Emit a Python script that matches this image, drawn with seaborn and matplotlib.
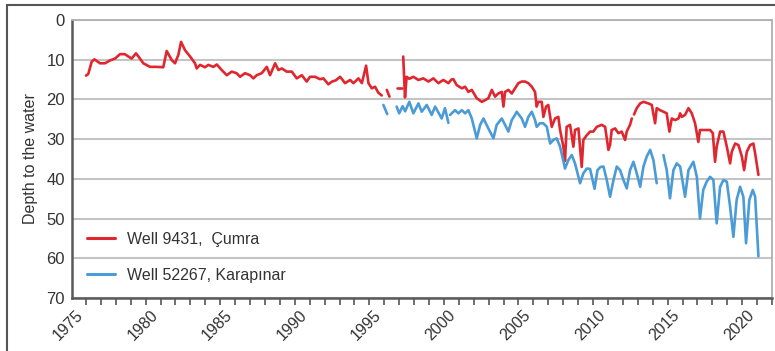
import numpy as np
import pandas as pd
import matplotlib
matplotlib.use("Agg")
import matplotlib.pyplot as plt
import seaborn as sns
from matplotlib.ticker import MultipleLocator
from matplotlib.patches import Rectangle

NaN = np.nan

# ---------------- data ----------------
series_names = ["Well 9431,  Çumra", "Well 52267, Karapınar"]
series_colors = ["#e0262e", "#4b9bd6"]

red_year = [1975.0, 1975.15, 1975.38, 1975.56, 1975.94, 1976.27, 1976.6, 1976.95, 1977.28, 1977.6,
            1977.84, 1978.06, 1978.35, 1978.5, 1978.84, 1979.29, 1979.74, 1980.18, 1980.41, 1980.75,
            1980.97, 1981.19, 1981.37, 1981.64, 1981.98, 1982.31, 1982.42, 1982.65, 1982.98, 1983.2,
            1983.54, 1983.77, 1984.1, 1984.44, 1984.77, 1985.1, 1985.33, 1985.66, 1986.0, 1986.22,
            1986.45, 1986.78, 1987.12, 1987.34, 1987.68, 1987.9, 1988.13, 1988.46, 1988.8, 1989.13,
            1989.47, 1989.8, 1990.02, 1990.36, 1990.69, 1990.92, 1991.25, 1991.5, 1991.75, 1992.04,
            1992.37, 1992.71, 1992.93, 1993.27, 1993.5, 1993.78, 1993.94, 1994.16, 1994.38, 1994.6,
            1994.83, NaN,
            1995.17, 1995.35, NaN,
            1995.83, 1996.17, NaN,
            1996.27, 1996.39, 1996.5, 1996.68, 1996.95, 1997.29, 1997.62, 1997.96, 1998.29, 1998.63,
            1998.96, 1999.3, 1999.5, 1999.63, 1999.86, 2000.2, 2000.42, 2000.64, 2000.87, 2001.2,
            2001.54, 2001.76, 2001.98, 2002.21, 2002.43, 2002.65, 2002.88, 2002.99, 2003.1, 2003.32,
            2003.55, 2003.77, 2003.99, 2004.22, 2004.44, 2004.66, 2004.89, 2005.11, 2005.22, 2005.33,
            2005.56, 2005.67, 2005.85, 2006.0, 2006.23, 2006.45, 2006.67, 2006.79, 2007.01, 2007.12,
            2007.23, 2007.46, 2007.68, 2007.79, 2008.02, 2008.24, 2008.35, 2008.58, 2008.8, 2009.02,
            2009.25, 2009.58, 2009.81, 2010.03, 2010.14, 2010.25, 2010.48, 2010.7, 2010.92, 2011.15,
            2011.26, 2011.48, 2011.6, NaN,
            2011.75, 2011.93, 2012.16, 2012.38, 2012.71, 2012.94, 2013.16, 2013.27, 2013.49, 2013.72,
            2013.94, 2014.12, 2014.28, 2014.5, 2014.73, 2014.84, 2014.95, 2015.17, 2015.4, 2015.62,
            2015.84, 2015.96, 2016.06, 2016.17, 2016.51, 2016.85, 2017.03, 2017.18, 2017.29, 2017.52,
            2017.74, 2017.97, 2018.19, 2018.3, 2018.53, 2018.75, 2018.98, 2019.13, 2019.31, 2019.53,
            2019.75, 2019.87, 2020.09]
red_depth = [14.0, 13.6, 10.5, 9.9, 10.9, 10.9, 10.2, 9.7, 8.6, 8.6,
             9.2, 9.7, 8.4, 9.1, 10.9, 11.8, 11.8, 11.9, 7.8, 10.1,
             10.9, 8.8, 5.5, 7.6, 9.2, 10.9, 12.2, 11.3, 11.9, 11.3,
             11.8, 11.2, 12.6, 13.9, 13.0, 13.4, 14.3, 13.4, 13.9, 14.7,
             13.9, 13.4, 11.8, 13.9, 10.9, 12.6, 12.2, 13.0, 13.0, 14.7,
             13.9, 15.5, 14.3, 14.3, 14.9, 14.7, 16.2, 15.5, 15.2, 14.3,
             15.9, 15.1, 15.9, 14.7, 15.9, 11.5, 15.9, 17.2, 16.8, 18.3,
             19.0, NaN,
             17.6, 19.3, NaN,
             17.2, 17.2, NaN,
             9.2, 19.5, 14.3, 14.8, 14.3, 15.1, 14.7, 15.5, 14.7, 15.9,
             15.1, 15.9, 15.0, 14.9, 16.4, 17.2, 16.8, 18.1, 17.6, 19.7,
             20.6, 20.2, 19.7, 17.6, 19.3, 18.5, 18.1, 21.8, 18.1, 17.6,
             18.5, 17.2, 15.9, 15.5, 15.5, 15.9, 16.8, 18.1, 21.8, 20.6,
             20.6, 24.4, 21.8, 21.4, 26.9, 24.8, 24.4, 27.7, 31.9, 35.5,
             26.9, 26.4, 31.9, 27.7, 27.3, 37.0, 30.2, 29.0, 28.1, 28.1,
             26.9, 26.4, 26.9, 32.7, 31.5, 27.7, 27.3, 28.5, 28.1, 30.2,
             28.1, 26.4, 24.8, NaN,
             23.8, 22.2, 21.0, 20.6, 21.0, 21.4, 26.0, 22.2, 22.7, 23.1,
             23.5, 28.1, 24.8, 25.2, 24.8, 23.5, 24.4, 23.9, 22.2, 23.5,
             26.0, 28.5, 30.7, 27.7, 27.7, 27.7, 28.5, 35.7, 31.9, 28.1,
             28.1, 31.9, 36.1, 33.2, 31.1, 31.5, 34.4, 37.8, 33.2, 31.5,
             31.1, 33.6, 39.0]

blue_year = [1994.94, 1995.2, NaN,
             1995.83, 1996.0, 1996.23, 1996.4, 1996.68, 1996.95, 1997.29, 1997.51, 1997.85, 1998.18,
             1998.41, 1998.85, 1999.07, 1999.3, NaN,
             1999.41, 1999.75, 1999.97, 2000.2, 2000.42, 2000.64, 2000.87, 2001.2, 2001.43, 2001.65,
             2001.98, 2002.32, 2002.54, 2002.88, 2003.1, 2003.32, 2003.55, 2003.77, 2003.88, 2004.22,
             2004.44, 2004.66, 2004.89, 2005.11, 2005.22, 2005.44, 2005.67, 2005.9, 2006.12, 2006.34,
             2006.56, 2006.79, 2007.12, 2007.34, 2007.57, 2007.79, 2008.13, 2008.35, 2008.58, 2008.8,
             2009.1, 2009.3, 2009.5, 2009.7, 2009.92, 2010.14, 2010.37, 2010.59, 2010.81, 2011.04,
             2011.26, 2011.48, 2011.71, 2011.93, 2012.16, 2012.38, 2012.6, 2012.83, 2013.05, 2013.27, NaN,
             2013.72, 2013.94, 2014.16, 2014.39, 2014.61, 2014.84, 2015.17, 2015.4, 2015.73, 2015.96,
             2016.17, 2016.39, 2016.62, 2016.85, 2017.07, 2017.29, 2017.52, 2017.74, 2017.97, 2018.19,
             2018.41, 2018.63, 2018.86, 2019.08, 2019.26, 2019.48, 2019.71, 2019.87, 2020.09]
blue_depth = [21.4, 23.7, NaN,
              21.8, 23.5, 21.7, 23.0, 20.6, 23.5, 21.0, 23.1, 21.4, 23.9,
              21.8, 24.8, 22.2, 25.9, NaN,
              23.9, 22.7, 23.5, 22.7, 23.5, 22.7, 24.8, 29.8, 26.4, 24.8,
              27.3, 29.8, 26.4, 24.8, 26.4, 28.1, 25.2, 23.9, 23.1, 24.8,
              26.9, 24.4, 23.1, 25.2, 26.9, 26.0, 26.0, 26.9, 31.1, 30.2,
              29.8, 31.9, 37.4, 35.3, 34.0, 36.1, 41.1, 38.6, 37.4, 37.5,
              42.5, 37.8, 37.0, 36.9, 40.3, 44.5, 40.3, 36.9, 37.8, 40.3,
              42.4, 37.8, 35.7, 38.6, 42.0, 36.9, 34.4, 32.7, 35.3, 41.1, NaN,
              34.0, 37.8, 44.9, 37.8, 36.1, 36.9, 44.5, 37.8, 35.7, 39.5,
              50.0, 42.8, 40.7, 39.5, 40.3, 51.2, 42.0, 40.3, 40.7, 47.0,
              54.6, 45.3, 42.0, 44.5, 56.2, 45.3, 42.8, 44.5, 59.5]

y_ticks = [0, 10, 20, 30, 40, 50, 60, 70]
x_ticks = [1975, 1980, 1985, 1990, 1995, 2000, 2005, 2010, 2015, 2020]
y_label = "Depth to the water"


def build(years, depths, name):
    d = pd.DataFrame({"year": years, "depth": depths})
    d["segment"] = name + "-" + d["depth"].isna().cumsum().astype(str)
    d["well"] = name
    return d.dropna()


df = pd.concat([build(red_year, red_depth, series_names[0]),
                build(blue_year, blue_depth, series_names[1])], ignore_index=True)

# ---------------- figure ----------------
sns.set_theme(style="white")
plt.rcParams["font.family"] = ["Liberation Sans", "DejaVu Sans"]

fig = plt.figure(figsize=(7.75, 3.51), dpi=100)
ax = fig.add_axes([72 / 775, 1 - 298 / 351, 700 / 775, 278 / 351])

sns.lineplot(data=df, x="year", y="depth", hue="well", units="segment",
             estimator=None, sort=False, palette=dict(zip(series_names, series_colors)),
             hue_order=series_names, linewidth=1.9, ax=ax)

ax.set_ylim(70, 0)
ax.set_yticks(y_ticks)
ax.set_xlim(1974.06, 2021.0)
ax.set_xticks(x_ticks)
ax.xaxis.set_minor_locator(MultipleLocator(1))
ax.set_xticklabels([str(t) for t in x_ticks], rotation=45, ha="right")

ax.tick_params(axis="x", which="both", bottom=True, direction="out", length=5,
               width=1.2, color="#555555", labelsize=11.5, labelcolor="#333333", pad=2)
ax.tick_params(axis="y", left=False, length=0, labelsize=12, labelcolor="#333333", pad=5)

ax.yaxis.grid(True, color="#c4c4c4", linewidth=1.5)
ax.xaxis.grid(False)
ax.set_axisbelow(True)

for s in ["left", "bottom"]:
    ax.spines[s].set_color("#5a5a5a")
    ax.spines[s].set_linewidth(1.8)
for s in ["top", "right"]:
    ax.spines[s].set_color("#b0b0b0")
    ax.spines[s].set_linewidth(1.3)

ax.set_xlabel("")
ax.set_ylabel(y_label, fontsize=11.5, color="#333333", labelpad=6)

handles, labels = ax.get_legend_handles_labels()
leg = ax.legend(handles, labels, loc="lower left", bbox_to_anchor=(0.022, 0.055),
                frameon=False, fontsize=11.5, handlelength=1.75, handletextpad=0.75,
                labelspacing=1.3, borderpad=0, borderaxespad=0)
for t in leg.get_texts():
    t.set_color("#333333")
for h in leg.legend_handles:
    h.set_linewidth(2.2)

fig.patches.append(Rectangle((7 / 775, -0.05), 1.2, 1 - 5 / 351 + 0.05,
                             transform=fig.transFigure, fill=False,
                             edgecolor="#555555", linewidth=1.5))

fig.savefig("out.png", dpi=100)
